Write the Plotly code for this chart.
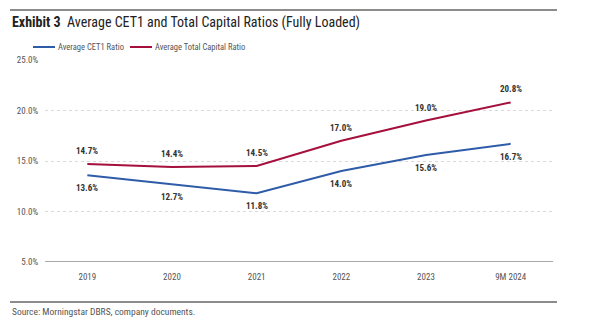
import plotly.graph_objects as go

categories = ["2019", "2020", "2021", "2022", "2023", "9M 2024"]
cet1 = [13.6, 12.7, 11.8, 14.0, 15.6, 16.7]
total_cap = [14.7, 14.4, 14.5, 17.0, 19.0, 20.8]
y_ticks = [5, 10, 15, 20, 25]
series_names = ["Average CET1 Ratio", "Average Total Capital Ratio"]

BLUE = "#2f5ca8"
RED = "#a50f3c"
FONT = "Liberation Sans Narrow, Roboto Condensed, Arial Narrow, Roboto, sans-serif"

L, R, T, B = 45, 47, 60, 67
PW = 600 - L - R
PH = 329 - T - B


def px(xp):
    return (xp - L) / PW


def py(yp):
    return (329 - B - yp) / PH


fig = go.Figure()
fig.add_trace(go.Scatter(x=categories, y=cet1, name=series_names[0], mode="lines",
                         line=dict(color=BLUE, width=2), showlegend=False))
fig.add_trace(go.Scatter(x=categories, y=total_cap, name=series_names[1], mode="lines",
                         line=dict(color=RED, width=2), showlegend=False))

for i, v in enumerate(cet1):
    fig.add_annotation(x=i, y=v, text=f"<b>{v:.1f}%</b>", showarrow=False, yshift=-13,
                       font=dict(size=9, color="#333333", family=FONT))
for i, v in enumerate(total_cap):
    fig.add_annotation(x=i, y=v, text=f"<b>{v:.1f}%</b>", showarrow=False, yshift=13,
                       font=dict(size=9, color="#333333", family=FONT))

fig.update_layout(
    width=600, height=329,
    margin=dict(l=L, r=R, t=T, b=B),
    paper_bgcolor="white", plot_bgcolor="white",
    font=dict(family=FONT, size=9, color="#555555"),
    showlegend=False,
    xaxis=dict(type="category", showgrid=False, showline=False, ticks="outside",
               ticklen=6, tickcolor="rgba(0,0,0,0)",
               tickfont=dict(size=9, color="#555555"), range=[-0.5, 5.5]),
    yaxis=dict(range=[5, 25], tickvals=y_ticks,
               ticktext=[f"{v:.1f}%" for v in y_ticks],
               showgrid=True, gridcolor="#d9d9d9", griddash="dot", gridwidth=1,
               zeroline=False, showline=False, ticks="outside", ticklen=4,
               tickcolor="rgba(0,0,0,0)",
               tickfont=dict(size=9, color="#555555")),
)

# legend (manual)
legend_items = [(series_names[0], BLUE, 33), (series_names[1], RED, 130)]
for name, col, x0 in legend_items:
    fig.add_shape(type="line", xref="paper", yref="paper", x0=px(x0), x1=px(x0 + 22),
                  y0=py(47), y1=py(47), line=dict(color=col, width=2))
    fig.add_annotation(xref="paper", yref="paper", x=px(x0 + 23), y=py(47),
                       xanchor="left", yanchor="middle", showarrow=False, text=name,
                       font=dict(size=8.5, color="#555555", family=FONT))

# bottom axis line at 5%
fig.add_shape(type="line", xref="paper", yref="y", x0=0, x1=1, y0=5, y1=5,
              line=dict(color="#8c8c8c", width=1.5))
# top rule
fig.add_shape(type="line", xref="paper", yref="paper", x0=px(10), x1=px(557),
              y0=py(10), y1=py(10), line=dict(color="#666666", width=1.5))
# bottom rule
fig.add_shape(type="line", xref="paper", yref="paper", x0=px(10), x1=px(557),
              y0=py(302), y1=py(302), line=dict(color="#666666", width=1.5))

fig.add_annotation(xref="paper", yref="paper", x=px(10), y=py(22),
                   xanchor="left", yanchor="middle", showarrow=False,
                   text="<b>Exhibit 3</b>  Average CET1 and Total Capital Ratios (Fully Loaded)",
                   font=dict(size=14, color="#222222", family=FONT))
fig.add_annotation(xref="paper", yref="paper", x=px(10), y=py(311),
                   xanchor="left", yanchor="middle", showarrow=False,
                   text="Source: Morningstar DBRS, company documents.",
                   font=dict(size=9.5, color="#555555", family=FONT))

fig.write_html("out.html")
